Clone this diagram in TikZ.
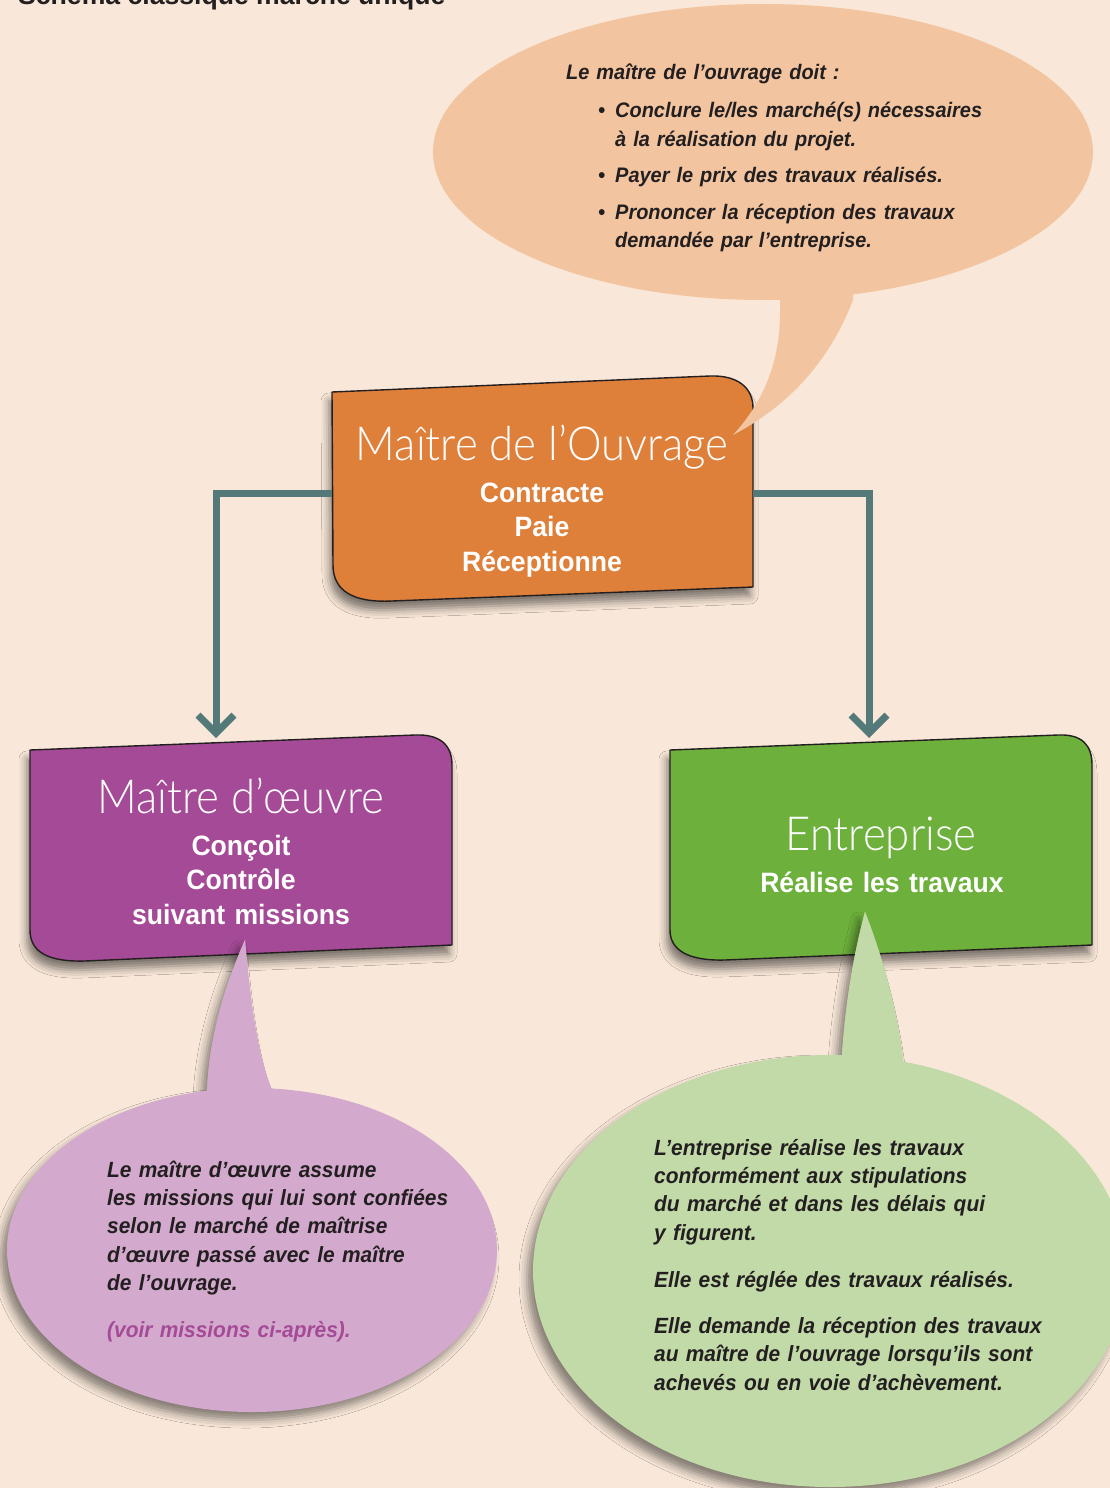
\documentclass[tikz,border=0pt]{standalone}
\usepackage{fontspec}
\setmainfont{Liberation Sans}
\newfontfamily\bodyfont{Liberation Sans}[FakeStretch=0.95]
\newfontfamily\lightfont{Lato Light}[FakeStretch=0.93]
\usetikzlibrary{arrows.meta,shadows.blur}

\definecolor{bg}{HTML}{F9E8D9}
\definecolor{ink}{HTML}{231F20}
\definecolor{connc}{HTML}{537A79}
\definecolor{oBox}{HTML}{DE7F3A}
\definecolor{oBub}{HTML}{F2C5A0}
\definecolor{pBox}{HTML}{A54A96}
\definecolor{pBub}{HTML}{D3AACE}
\definecolor{gBox}{HTML}{6DB03C}
\definecolor{gBub}{HTML}{C2D9A8}

\tikzset{
  boxshape/.style={draw=ink, line width=1.4pt, line join=round,
    blur shadow={shadow xshift=-3pt, shadow yshift=-9pt,
                 shadow blur radius=8pt, shadow opacity=50}},
  bubshadow/.style={blur shadow={shadow xshift=-6pt, shadow yshift=-8pt,
                 shadow blur radius=8pt, shadow opacity=45}},
  conn/.style={draw=connc, line width=7pt,
    -{Straight Barb[length=18pt,width=36pt]}},
  title/.style={text=white, inner sep=0pt,
    font=\lightfont\fontsize{47}{52}\selectfont},
  role/.style={text=white, inner sep=0pt, text width=420pt, align=center,
    font=\bodyfont\bfseries\fontsize{28}{34.7}\selectfont},
  note/.style={text=ink, inner sep=0pt, text width=470pt, align=left,
    anchor=base west,
    font=\bodyfont\bfseries\itshape\fontsize{22}{28.4}\selectfont},
}

\begin{document}
\begin{tikzpicture}[x=1pt, y=-1pt]
\useasboundingbox (0,0) rectangle (1110,1488);
\fill[bg] (0,0) rectangle (1110,1488);

% heading (partly above the page edge)
\node[anchor=base west, inner sep=0pt, text=ink,
      font=\bfseries\fontsize{26.6}{30}\selectfont] (hdr) at (18,5)
  {Schéma classique marché unique};

% ---------- boxes ----------
\path[boxshape, fill=oBox]
  (332,392) -- (710,376) .. controls (738,375) and (753,388) .. (753,408)
  -- (753,587) -- (392,601) .. controls (352,603) and (333,590) .. (333,565)
  -- cycle;
\path[boxshape, fill=pBox]
  (30,750) -- (415,735) .. controls (440,734) and (452,745) .. (452,765)
  -- (452,945) -- (85,961) .. controls (48,962) and (30,952) .. (30,930)
  -- cycle;
\path[boxshape, fill=gBox]
  (670,750) -- (1058,735) .. controls (1082,734) and (1092,745) .. (1092,765)
  -- (1092,945) -- (725,960) .. controls (688,961) and (670,950) .. (670,930)
  -- cycle;

% ---------- connectors ----------
\coordinate (moW) at (332,493);
\coordinate (moE) at (753,493);
\coordinate (moeTop) at (216,738);
\coordinate (entTop) at (869,738);
\draw[conn] (moW) -| (moeTop);
\draw[conn] (moE) -| (entTop);

% ---------- speech bubbles ----------
% maître de l'ouvrage
\fill[oBub] (763,152) ellipse [x radius=330pt, y radius=148pt];
\fill[oBub] (780,290) -- (780,312) .. controls (780,360) and (765,400) .. (733,435)
  .. controls (790,405) and (830,360) .. (853,300) -- (853,290) -- cycle;

% maître d'oeuvre
\fill[pBub, bubshadow] (207,1110) -- (207,1095) .. controls (208,1040) and (225,985) .. (245,940)
  .. controls (250,1000) and (258,1060) .. (273,1092) -- (273,1110) -- cycle;
\fill[pBub, bubshadow] (252,1250) ellipse [x radius=245pt, y radius=162pt];
\fill[pBub] (207,1110) -- (207,1095) .. controls (208,1040) and (225,985) .. (245,940)
  .. controls (250,1000) and (258,1060) .. (273,1092) -- (273,1110) -- cycle;

% entreprise
\fill[gBub, bubshadow] (842,1075) -- (842,1055) .. controls (845,1010) and (852,960) .. (865,912)
  .. controls (880,950) and (895,1000) .. (903,1058) -- (903,1075) -- cycle;
\fill[gBub, bubshadow] (830,1271) ellipse [x radius=297pt, y radius=216pt];
\fill[gBub] (842,1075) -- (842,1055) .. controls (845,1010) and (852,960) .. (865,912)
  .. controls (880,950) and (895,1000) .. (903,1058) -- (903,1075) -- cycle;

% ---------- box texts ----------
\node[title, anchor=base] (moT) at (542,460) {Maître de l’Ouvrage};
\node[role, anchor=base] (moR) at (542,502) {Contracte\\Paie\\Réceptionne};

\node[title, anchor=base] (moeT) at (241,813) {Maître d’œuvre};
\node[role, anchor=base] (moeR) at (241,855) {Conçoit\\Contrôle\\suivant missions};

\node[title, anchor=base] (entT) at (881,850) {Entreprise};
\node[role, anchor=base] (entR) at (882,892) {Réalise les travaux};

% ---------- bubble texts ----------
\node[note, font=\bodyfont\bfseries\itshape\fontsize{21}{28.4}\selectfont]
  (moNote) at (566,80) {Le maître de l’ouvrage doit :\\[9.6pt]
  \hspace*{32pt}\makebox[17pt][l]{•}Conclure le/les marché(s) nécessaires\\
  \hspace*{49pt}à la réalisation du projet.\\[7.6pt]
  \hspace*{32pt}\makebox[17pt][l]{•}Payer le prix des travaux réalisés.\\[8.6pt]
  \hspace*{32pt}\makebox[17pt][l]{•}Prononcer la réception des travaux\\
  \hspace*{49pt}demandée par l’entreprise.};

\node[note] (moeNote) at (107,1177) {Le maître d’œuvre assume\\
  les missions qui lui sont confiées\\
  selon le marché de maîtrise\\
  d’œuvre passé avec le maître\\
  de l’ouvrage.\\[18.7pt]
  \textcolor{pBox}{(voir missions ci-après).}};

\node[note] (entNote) at (654,1155) {L’entreprise réalise les travaux\\
  conformément aux stipulations\\
  du marché et dans les délais qui\\
  y figurent.\\[18.6pt]
  Elle est réglée des travaux réalisés.\\[17.6pt]
  Elle demande la réception des travaux\\
  au maître de l’ouvrage lorsqu’ils sont\\
  achevés ou en voie d’achèvement.};
\end{tikzpicture}
\end{document}
